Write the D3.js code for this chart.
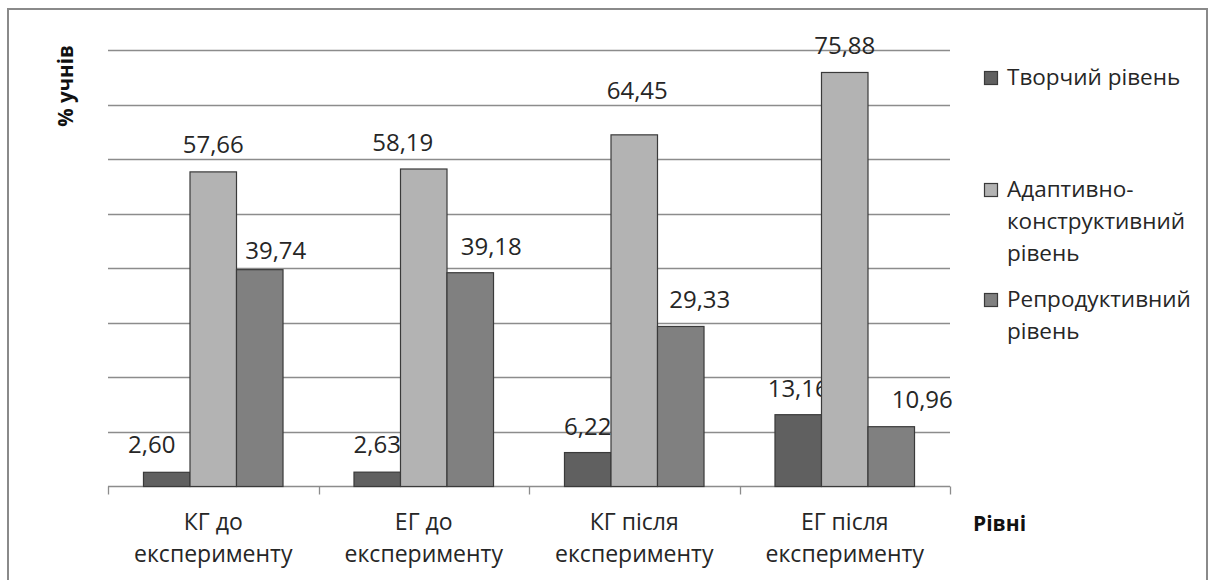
<!DOCTYPE html>
<html>
<head>
<meta charset="utf-8">
<script src="https://cdn.jsdelivr.net/npm/d3@7"></script>
<style>
  html, body { margin: 0; padding: 0; background: #fff; }
  svg { display: block; font-family: "Open Sans", "DejaVu Sans", sans-serif; }
</style>
</head>
<body>
<svg id="chart" width="1208" height="580"></svg>
<script>
// Groups of pupils (x categories), each label split over two lines
const categories = ["КГ до експерименту", "ЕГ до експерименту", "КГ після експерименту", "ЕГ після експерименту"];
const categoryLines = [["КГ до", "експерименту"], ["ЕГ до", "експерименту"], ["КГ після", "експерименту"], ["ЕГ після", "експерименту"]];

// Levels (series) and their legend text lines
const seriesNames = ["Творчий рівень", "Адаптивно-конструктивний рівень", "Репродуктивний рівень"];
const legendLines = [["Творчий рівень"], ["Адаптивно-", "конструктивний", "рівень"], ["Репродуктивний", "рівень"]];

// Share of pupils, %, per level for each group
const creative     = [2.60, 2.63, 6.22, 13.16];
const adaptive     = [57.66, 58.19, 64.45, 75.88];
const reproductive = [39.74, 39.18, 29.33, 10.96];
const seriesValues = [creative, adaptive, reproductive];

// Value-axis grid ticks
const gridTicks = [0, 10, 20, 30, 40, 50, 60, 70, 80];

// Hand-placed label nudges: horizontal shift and gap above the bar top
const labelDx  = [[-15, 0, 0, 0], [0, -21, 3, 0], [16, 21, 19, 31]];
const labelGap = [[19, 19, 18, 18], [19, 18, 36, 18], [11, 18, 18, 19]];

const colors = ["#606060", "#b3b3b3", "#808080"];
const textColor = "#262626";
const gridColor = "#8c8c8c";

const svg = d3.select("#chart");

// Outer frame
svg.append("rect")
  .attr("x", 8).attr("y", 9).attr("width", 1199).attr("height", 600)
  .attr("fill", "none").attr("stroke", "#8a8a8a").attr("stroke-width", 2);

const plot = { left: 108, right: 950, top: 50, bottom: 486.5 };

const y = d3.scaleLinear().domain([0, 80]).range([plot.bottom, plot.top]);
const x0 = d3.scaleBand().domain(categories).range([plot.left, plot.right]).padding(0);
const x1 = d3.scaleBand().domain(seriesNames).range([0, x0.bandwidth()])
  .paddingInner(0).paddingOuter(0.763);

// Horizontal gridlines
svg.append("g").selectAll("line").data(gridTicks.filter(t => t > 0)).join("line")
  .attr("x1", plot.left).attr("x2", plot.right)
  .attr("y1", d => Math.round(y(d)) + 0.5).attr("y2", d => Math.round(y(d)) + 0.5)
  .attr("stroke", gridColor).attr("stroke-width", 1.3);

// Category axis with tick marks on band boundaries
const xAxis = svg.append("g").attr("transform", `translate(0,${plot.bottom})`);
xAxis.append("line").attr("x1", plot.left).attr("x2", plot.right)
  .attr("y1", 0).attr("y2", 0).attr("stroke", gridColor).attr("stroke-width", 1.3);
const boundaries = categories.map(c => x0(c)).concat([x0(categories[categories.length - 1]) + x0.bandwidth()]);
xAxis.selectAll("line.tick").data(boundaries).join("line").attr("class", "tick")
  .attr("x1", d => Math.round(d) + 0.5).attr("x2", d => Math.round(d) + 0.5)
  .attr("y1", 0).attr("y2", 8).attr("stroke", gridColor).attr("stroke-width", 1.3);

xAxis.selectAll("text.cat").data(categories).join("text").attr("class", "cat")
  .attr("x", d => x0(d) + x0.bandwidth() / 2)
  .attr("text-anchor", "middle").attr("fill", textColor).attr("font-size", 23)
  .each(function(d, i) {
    d3.select(this).selectAll("tspan").data(categoryLines[i]).join("tspan")
      .attr("x", x0(d) + x0.bandwidth() / 2)
      .attr("y", (t, j) => 43.5 + j * 32)
      .text(t => t);
  });

// Bars
const groups = svg.append("g").selectAll("g").data(categories).join("g")
  .attr("transform", d => `translate(${x0(d)},0)`);

groups.each(function(cat, ci) {
  const g = d3.select(this);
  seriesNames.forEach((s, si) => {
    const v = seriesValues[si][ci];
    g.append("rect")
      .attr("x", x1(s)).attr("y", y(v))
      .attr("width", x1.bandwidth()).attr("height", y(0) - y(v))
      .attr("fill", colors[si]).attr("stroke", "#3a3a3a").attr("stroke-width", 1.2);
    g.append("text")
      .attr("x", x1(s) + x1.bandwidth() / 2 + labelDx[si][ci])
      .attr("y", y(v) - labelGap[si][ci])
      .attr("text-anchor", "middle").attr("fill", textColor).attr("font-size", 24)
      .text(d3.format(".2f")(v).replace(".", ","));
  });
});

// Axis titles
svg.append("text")
  .attr("transform", "translate(73,86) rotate(-90)")
  .attr("text-anchor", "middle").attr("fill", "#111").attr("font-size", 20.5)
  .attr("font-weight", "bold").text("% учнів");

svg.append("text")
  .attr("x", 973).attr("y", 531)
  .attr("fill", "#111").attr("font-size", 21).attr("font-weight", "bold").text("Рівні");

// Legend
const legendBaselines = [85, 197, 307];
const legend = svg.append("g");
seriesNames.forEach((s, i) => {
  legend.append("rect")
    .attr("x", 984.5).attr("y", legendBaselines[i] - 13.5)
    .attr("width", 13).attr("height", 13)
    .attr("fill", colors[i]).attr("stroke", "#3a3a3a").attr("stroke-width", 1.2);
  const t = legend.append("text").attr("fill", textColor).attr("font-size", 22.5);
  t.selectAll("tspan").data(legendLines[i]).join("tspan")
    .attr("x", 1007).attr("y", (d, j) => legendBaselines[i] + j * 32)
    .text(d => d);
});
</script>
</body>
</html>
